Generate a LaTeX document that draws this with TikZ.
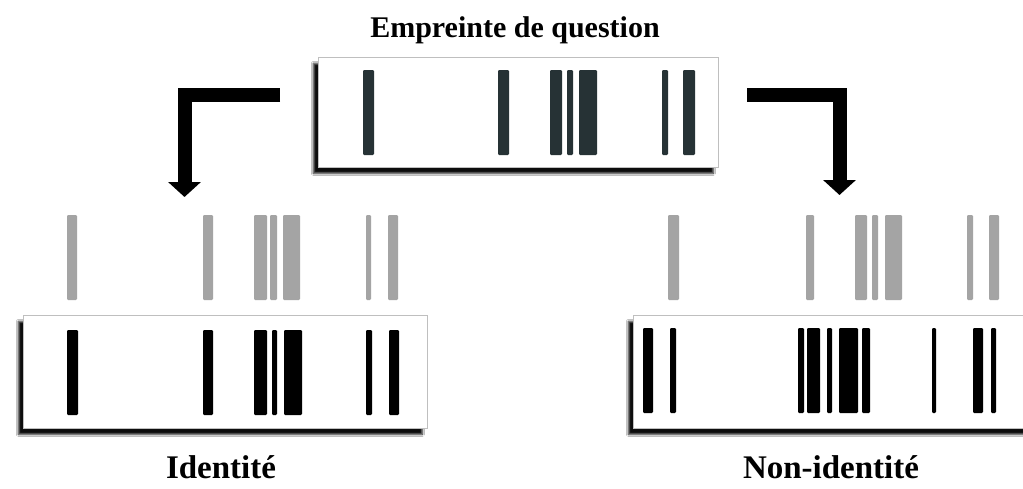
\documentclass[tikz,border=0pt]{standalone}
\usepackage{fontspec}
\setmainfont{Liberation Serif}
\usetikzlibrary{arrows.meta,shadows.blur}
\definecolor{slate}{HTML}{263235}
\definecolor{ghost}{HTML}{A4A4A4}
\tikzset{
  gelbox/.style={draw=black!25, line width=0.8pt, fill=white, inner sep=0pt, anchor=north west,
    blur shadow={shadow xshift=-5pt, shadow yshift=-6pt, shadow blur radius=2pt, shadow opacity=95, shadow blur steps=6}},
  band/.style={rounded corners=1.2pt},
  bigarrow/.style={line width=14pt, line join=miter, -{Triangle[length=15pt,width=32pt]}},
  lbl/.style={font=\bfseries\fontsize{33}{38}\selectfont, inner sep=0pt},
  ttl/.style={font=\bfseries\fontsize{30}{35}\selectfont, inner sep=0pt}
}
\begin{document}
\begin{tikzpicture}[x=1pt,y=-1pt]
\clip (0,0) rectangle (1023,488);
\fill[white] (0,0) rectangle (1023,488);

% boxes
\node[gelbox, minimum width=400pt, minimum height=110pt] (top) at (318,57) {};
\node[gelbox, minimum width=404pt, minimum height=113pt] (left) at (23,315) {};
\node[gelbox, minimum width=420pt, minimum height=113pt] (right) at (633,315) {};

% labels
\node[ttl] (title) at (515,30) {Empreinte de question};
\node[lbl] (lid) at (221,467) {Identité};
\node[lbl] (rid) at (831,467) {Non-identité};

% query bands
\foreach \a/\b in {363/374, 498/509, 550/562, 567/573, 579/597, 662/668, 683/695}
  \fill[slate, band] (\a,70) rectangle (\b,155);

% ghost bands (left)
\foreach \a/\b in {67/77, 203/213, 254/267, 270/277, 283/300, 366/371, 388/398}
  \fill[ghost, band] (\a,215) rectangle (\b,300);
% sample bands (left)
\foreach \a/\b in {67/78, 203/213, 254/267, 272/277, 284/302, 366/372, 389/399}
  \fill[black, band] (\a,330) rectangle (\b,415);

% ghost bands (right)
\foreach \a/\b in {668/679, 806/814, 855/867, 872/878, 885/902, 967/973, 989/999}
  \fill[ghost, band] (\a,215) rectangle (\b,300);
% sample bands (right)
\foreach \a/\b in {643/653, 670/676, 798/804, 807/820, 827/832, 839/858, 862/870, 932/936, 973/983, 991/996}
  \fill[black, band] (\a,328) rectangle (\b,413);

% arrows
\coordinate (la) at (280,95);
\coordinate (lt) at (184.5,197);
\coordinate (ra) at (747,95);
\coordinate (rt) at (839.5,195);
\draw[bigarrow] (la) -| (lt);
\draw[bigarrow] (ra) -| (rt);
\end{tikzpicture}
\end{document}
